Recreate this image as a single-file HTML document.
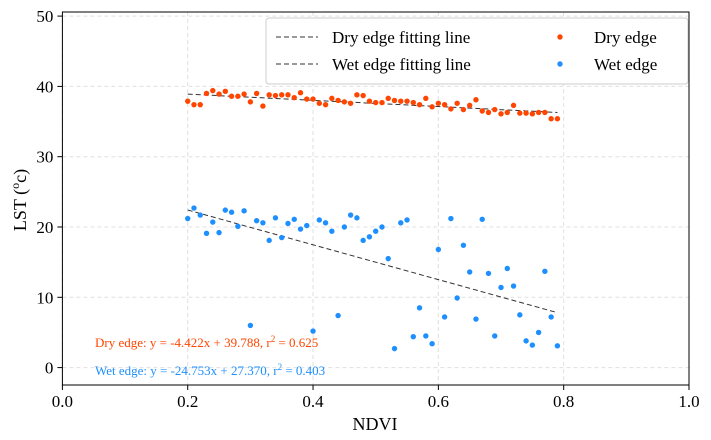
<!DOCTYPE html>
<html><head><meta charset="utf-8"><style>
body{margin:0;background:#fff;}
svg{display:block;font-family:"Liberation Serif",serif;}
</style></head><body>
<svg id="chart" width="711" height="440"></svg>
<script>
const xTicks=[0.0,0.2,0.4,0.6,0.8,1.0];
const yTicks=[0,10,20,30,40,50];
const ndvi=[];for(let i=0;i<60;i++)ndvi.push(+(0.20+i*0.01).toFixed(2));
const dryLST=[37.9,37.4,37.4,39.0,39.4,38.9,39.3,38.6,38.6,38.9,37.8,39.0,37.2,38.8,38.7,38.8,38.8,38.4,39.1,38.2,38.2,37.6,37.4,38.3,38.0,37.8,37.6,38.8,38.7,37.9,37.7,37.7,38.3,38.0,37.9,37.9,37.7,37.4,38.3,37.1,37.6,37.4,36.8,37.6,36.7,37.3,38.1,36.5,36.3,36.7,36.1,36.3,37.3,36.2,36.2,36.1,36.3,36.3,35.4,35.4];
const wetLST=[21.2,22.7,21.7,19.1,20.7,19.2,22.4,22.1,20.1,22.3,6.0,20.9,20.6,18.1,21.3,18.5,20.5,21.1,19.7,20.2,5.2,21.0,20.6,19.4,7.4,20.0,21.7,21.3,18.1,18.6,19.4,20.0,15.5,2.7,20.6,21.0,4.4,8.5,4.5,3.4,16.8,7.2,21.2,9.9,17.4,13.6,6.9,21.1,13.4,4.5,11.4,14.1,11.6,7.5,3.8,3.2,5.0,13.7,7.2,3.1];
const dryFit=[-4.422,39.788];
const wetFit=[-24.753,27.370];
const L=62.4,R=689,T=12,B=385;
const X=v=>L+v*(R-L);
const Y=v=>367.6-v*7.03;
const NS="http://www.w3.org/2000/svg";
const svg=document.getElementById('chart');
function mk(t,a,p){const e=document.createElementNS(NS,t);for(const k in a)e.setAttribute(k,a[k]);(p||svg).appendChild(e);return e;}
// grid
xTicks.forEach(v=>{const g=mk('line',{x1:X(v),x2:X(v),y1:T,y2:B,stroke:'#e0e0e0','stroke-dasharray':'4,3','stroke-width':1});

});
yTicks.forEach(v=>{const g=mk('line',{x1:L,x2:R,y1:Y(v),y2:Y(v),stroke:'#e0e0e0','stroke-dasharray':'4,3','stroke-width':1});

});
// fit lines
function fit(c,name){const l=mk('line',{x1:X(0.2),y1:Y(c[0]*0.2+c[1]),x2:X(0.79),y2:Y(c[0]*0.79+c[1]),stroke:'#333','stroke-width':1,'stroke-dasharray':'5,3'});

}
fit(dryFit,'dry-fit-line');fit(wetFit,'wet-fit-line');
ndvi.forEach((x,i)=>{const c=mk('circle',{cx:X(x),cy:Y(dryLST[i]),r:2.7,fill:'#ff4500'});


const w=mk('circle',{cx:X(x),cy:Y(wetLST[i]),r:2.7,fill:'#1e8fff'});

});
// frame
const f=mk('rect',{x:L,y:T,width:R-L,height:B-T,fill:'none',stroke:'#000','stroke-width':1});


xTicks.forEach(v=>{mk('line',{x1:X(v),x2:X(v),y1:B,y2:B+5,stroke:'#000'});
const t=mk('text',{x:X(v),y:B+22,'text-anchor':'middle','font-size':17});t.textContent=v.toFixed(1);

});
yTicks.forEach(v=>{mk('line',{x1:L-5,x2:L,y1:Y(v),y2:Y(v),stroke:'#000'});
const t=mk('text',{x:L-9,y:Y(v)+6,'text-anchor':'end','font-size':17});t.textContent=v;

});
</script>
<svg style="position:absolute;left:0;top:0" width="711" height="440">
<text x="375" y="430" text-anchor="middle" font-size="18" font-family="Liberation Serif,serif">NDVI</text>
<text transform="translate(26,200) rotate(-90)" text-anchor="middle" font-size="18" font-family="Liberation Serif,serif">LST (<tspan font-size="12" dy="-7">o</tspan><tspan dy="7">c)</tspan></text>
<g font-family="Liberation Serif,serif" font-size="17">
<rect x="266" y="18" width="422" height="66" rx="3" fill="#fff" stroke="#ccc"/>
<line x1="276" y1="37" x2="318" y2="37" stroke="#333" stroke-dasharray="5,3"/>
<text x="332" y="43">Dry edge fitting line</text>
<line x1="276" y1="64" x2="318" y2="64" stroke="#333" stroke-dasharray="5,3"/>
<text x="332" y="70">Wet edge fitting line</text>
<circle cx="560" cy="37" r="2.7" fill="#ff4500"/>
<text x="594" y="43">Dry edge</text>
<circle cx="560" cy="64" r="2.7" fill="#1e8fff"/>
<text x="594" y="70">Wet edge</text>
</g>
<text x="95" y="347" font-size="13" fill="#ff4500" font-family="Liberation Serif,serif">Dry edge: y = -4.422x + 39.788, r<tspan font-size="9" dy="-5">2</tspan><tspan dy="5"> = 0.625</tspan></text>
<text x="95" y="375" font-size="13" fill="#1e8fff" font-family="Liberation Serif,serif">Wet edge: y = -24.753x + 27.370, r<tspan font-size="9" dy="-5">2</tspan><tspan dy="5"> = 0.403</tspan></text>
</svg>
</body></html>
